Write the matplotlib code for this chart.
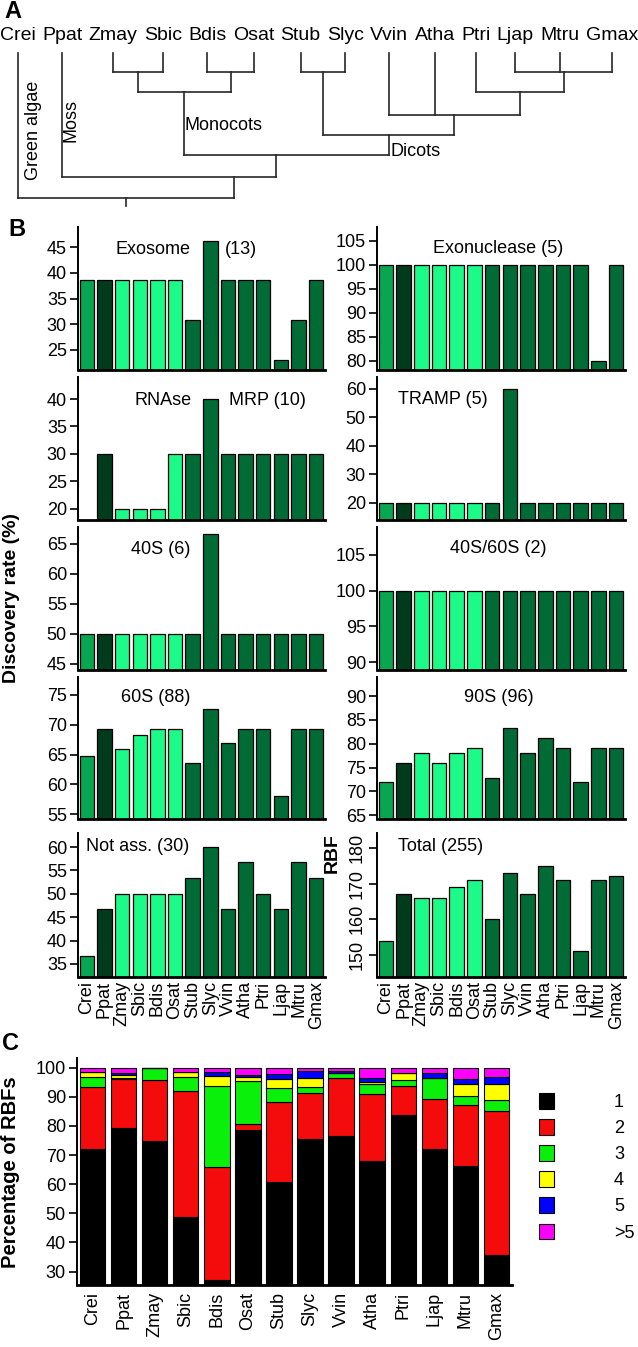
import matplotlib.pyplot as plt
from matplotlib.patches import Patch

plt.rcParams['font.family'] = ['Liberation Sans', 'DejaVu Sans']

species = ['Crei', 'Ppat', 'Zmay', 'Sbic', 'Bdis', 'Osat', 'Stub', 'Slyc',
           'Vvin', 'Atha', 'Ptri', 'Ljap', 'Mtru', 'Gmax']

# bar colour per group: green algae, moss, monocots, dicots
c_alga, c_moss, c_mono, c_dicot = '#08a651', '#003b1c', '#1cfa88', '#016b36'
bar_colors = [c_alga, c_moss] + [c_mono] * 4 + [c_dicot] * 8

# panel B, discovery rate (%)
exosome = [38.5, 38.5, 38.5, 38.5, 38.5, 38.5, 30.8, 46.2, 38.5, 38.5, 38.5, 23.1, 30.8, 38.5]
exonuclease = [100, 100, 100, 100, 100, 100, 100, 100, 100, 100, 100, 100, 80, 100]
rnase_mrp = [10, 30, 20, 20, 20, 30, 30, 40, 30, 30, 30, 30, 30, 30]
tramp = [20, 20, 20, 20, 20, 20, 20, 60, 20, 20, 20, 20, 20, 20]
s40 = [50, 50, 50, 50, 50, 50, 50, 66.7, 50, 50, 50, 50, 50, 50]
s40_60 = [100] * 14
s60 = [64.8, 69.3, 65.9, 68.2, 69.3, 69.3, 63.6, 72.7, 67.0, 69.3, 69.3, 58.0, 69.3, 69.3]
s90 = [71.9, 76.0, 78.1, 76.0, 78.1, 79.2, 72.9, 83.3, 78.1, 81.2, 79.2, 71.9, 79.2, 79.2]
not_ass = [36.7, 46.7, 50, 50, 50, 50, 53.3, 60, 46.7, 56.7, 50, 46.7, 56.7, 53.3]
total_rbf = [154, 167, 166, 166, 169, 171, 160, 173, 167, 175, 171, 151, 171, 172]

# panel C, percentage of RBFs found in 1, 2, 3, 4, 5, >5 copies
copies = ['1', '2', '3', '4', '5', '>5']
copy_colors = ['black', '#f40b0b', '#0bf00b', '#ffff00', '#0000ff', '#ff00ff']
pc1 = [72.0, 79.2, 74.9, 48.7, 27.1, 78.6, 60.9, 75.4, 76.6, 68.0, 83.8, 72.0, 66.3, 35.7]
pc2 = [21.3, 16.8, 20.9, 43.4, 38.7, 2.1, 27.2, 15.8, 19.8, 23.0, 9.9, 17.2, 20.9, 49.5]
pc3 = [3.6, 0.4, 4.2, 4.8, 27.9, 14.8, 4.8, 2.1, 1.9, 3.4, 2.1, 7.2, 3.1, 3.7]
pc4 = [1.7, 0.9, 0, 1.7, 3.4, 1.4, 3.1, 3.1, 0, 0.8, 2.3, 0, 4.1, 5.5]
pc5 = [0, 0.7, 0, 0, 1.3, 0.5, 1.7, 2.5, 0.5, 1.2, 0, 1.9, 1.6, 2.3]
pc6 = [1.4, 2.0, 0, 1.4, 1.6, 2.6, 2.3, 1.1, 1.2, 3.6, 1.9, 1.7, 4.0, 3.3]

W, H = 638, 1347
fig = plt.figure(figsize=(W / 100, H / 100), dpi=100)


def px_axes(x0, y0, x1, y1):
    return fig.add_axes([x0 / W, 1 - y1 / H, (x1 - x0) / W, (y1 - y0) / H])


# ---------------- A: tree ----------------
axa = px_axes(0, 0, W, 220)
axa.set_xlim(0, W)
axa.set_ylim(220, 0)
axa.axis('off')
renderer = fig.canvas.get_renderer()

labels = [axa.text(0, 35, s, fontsize=14, ha='left', va='center') for s in species]
widths = [t.get_window_extent(renderer).width for t in labels]
gap = (W - sum(widths)) / (len(species) - 1)
leaf_x = {}
xpos = 0
for t, w, s in zip(labels, widths, species):
    t.set_x(xpos)
    leaf_x[s] = xpos + w / 2
    xpos += w + gap

leaf_top = 53
# internal node = (level, children, stem fraction)
mono = (92, [(72, ['Zmay', 'Sbic'], .5), (72, ['Bdis', 'Osat'], .5)], .5)
solan = (72, ['Stub', 'Slyc'], .5)
fab = (72, ['Ljap', 'Mtru', 'Gmax'], .5)
rosid = (92, ['Ptri', fab], .5)
core = (115, ['Vvin', 'Atha', rosid], .5)
dicots = (135, [solan, core], .5)
angio = (155, [mono, dicots], .45)
land = (177, ['Ppat', angio], .8)
root = (198, ['Crei', land], .5)

tree_kw = dict(color='#262626', lw=1.2)


def draw(node):
    if isinstance(node, str):
        return leaf_x[node], leaf_top
    level, kids, frac = node
    xs = []
    for k in kids:
        kx, ky = draw(k)
        axa.plot([kx, kx], [ky, level], **tree_kw)
        xs.append(kx)
    axa.plot([min(xs), max(xs)], [level, level], **tree_kw)
    return min(xs) + frac * (max(xs) - min(xs)), level


rx, ry = draw(root)
axa.plot([rx, rx], [ry, ry + 8], **tree_kw)

axa.text(4, 12, 'A', fontsize=17, fontweight='bold', va='center')
axa.text(33, 130, 'Green algae', fontsize=13, rotation=90, ha='center', va='center')
axa.text(71, 120, 'Moss', fontsize=13, rotation=90, ha='center', va='center')
axa.text(185, 125, 'Monocots', fontsize=13, va='center')
axa.text(391, 151, 'Dicots', fontsize=13, va='center')

# ---------------- B: discovery rates ----------------
panels = [
    (exosome, (21.1, 48.9), range(25, 46, 5), [('Exosome', .304), ('(13)', .66)], .846),
    (exonuclease, (78.1, 107.9), range(80, 106, 5), [('Exonuclease (5)', .488)], .853),
    (rnase_mrp, (18, 44), range(20, 41, 5), [('RNAse', .344), ('MRP (10)', .767)], .839),
    (tramp, (14, 64.2), range(20, 61, 10), [('TRAMP (5)', .266)], .846),
    (s40, (44, 67.8), range(45, 66, 5), [('40S (6)', .336)], .846),
    (s40_60, (88.9, 108.9), range(90, 106, 5), [('40S/60S (2)', .49)], .853),
    (s60, (54.2, 78), range(55, 76, 5), [('60S (88)', .316)], .859),
    (s90, (64.2, 94), range(65, 91, 5), [('90S (96)', .492)], .859),
    (not_ass, (32.2, 63), range(35, 61, 5), [('Not ass. (30)', .243)], .903),
    (total_rbf, (143.8, 184.2), range(150, 181, 10), [('Total (255)', .258)], .903),
]
cols = [(78, 325), (377, 625)]
rows = [(227, 370), (377, 520), (527, 670), (677, 819), (833, 977)]
x = range(len(species))

for i, (vals, ylim, ticks, title, ty) in enumerate(panels):
    r, c = divmod(i, 2)
    ax = px_axes(cols[c][0], rows[r][0], cols[c][1], rows[r][1])
    ax.bar(x, vals, width=0.82, color=bar_colors, edgecolor='black', linewidth=0.9)
    ax.set_xlim(-0.5, 13.5)
    ax.set_ylim(*ylim)
    ax.set_yticks(list(ticks))
    for s in ['top', 'right']:
        ax.spines[s].set_visible(False)
    ax.spines['left'].set_linewidth(1.4)
    ax.spines['bottom'].set_linewidth(2)
    ax.tick_params(axis='y', length=6, width=1.2, labelsize=13, pad=2)
    ax.tick_params(axis='x', length=0, labelsize=13, pad=3)
    ax.set_xticks(list(x))
    if r == 4:
        ax.set_xticklabels(species, rotation=90)
    else:
        ax.set_xticklabels([])
    for txt, tx in title:
        ax.text(tx, ty, txt, transform=ax.transAxes, fontsize=13,
                ha='center', va='center', zorder=0)
    if i == 9:
        ax.tick_params(axis='y', labelrotation=90)
        for lbl in ax.get_yticklabels():
            lbl.set_va('center')

fig.text(8 / W, 1 - 230 / H, 'B', fontsize=17, fontweight='bold', va='center')
fig.text(12 / W, 1 - 598 / H, 'Discovery rate (%)', fontsize=14, fontweight='bold',
         rotation=90, ha='center', va='center')
fig.text(332 / W, 1 - 853 / H, 'RBF', fontsize=14, fontweight='bold',
         rotation=90, ha='center', va='center')

# ---------------- C: copy number ----------------
axc = px_axes(77, 1058, 512, 1285)
bottom = [0] * len(species)
for vals, col, lab in zip([pc1, pc2, pc3, pc4, pc5, pc6], copy_colors, copies):
    axc.bar(x, vals, bottom=bottom, width=0.82, color=col, edgecolor='black',
            linewidth=0.8, label=lab)
    bottom = [b + v for b, v in zip(bottom, vals)]
axc.set_xlim(-0.5, 13.5)
axc.set_ylim(25.4, 103.3)
axc.set_yticks(range(30, 101, 10))
for s in ['top', 'right']:
    axc.spines[s].set_visible(False)
axc.spines['left'].set_linewidth(1.4)
axc.spines['bottom'].set_linewidth(2)
axc.tick_params(axis='y', length=6, width=1.2, labelsize=13, pad=2)
axc.tick_params(axis='x', length=0, labelsize=13, pad=5)
axc.set_xticks(list(x))
axc.set_xticklabels(species, rotation=90)

handles = [Patch(facecolor=col, edgecolor='black', linewidth=0.8) for col in copy_colors]
fig.legend(handles, copies, loc='upper left', bbox_to_anchor=(539 / W, 1 - 1093 / H),
           frameon=False, fontsize=13, handlelength=0.85, handleheight=0.95,
           handletextpad=3.3, labelspacing=0.45, borderpad=0, borderaxespad=0)

fig.text(2 / W, 1 - 1043 / H, 'C', fontsize=17, fontweight='bold', va='center')
fig.text(11 / W, 1 - 1172 / H, 'Percentage of RBFs', fontsize=14.5, fontweight='bold',
         rotation=90, ha='center', va='center')

fig.savefig('out.png', dpi=100)
